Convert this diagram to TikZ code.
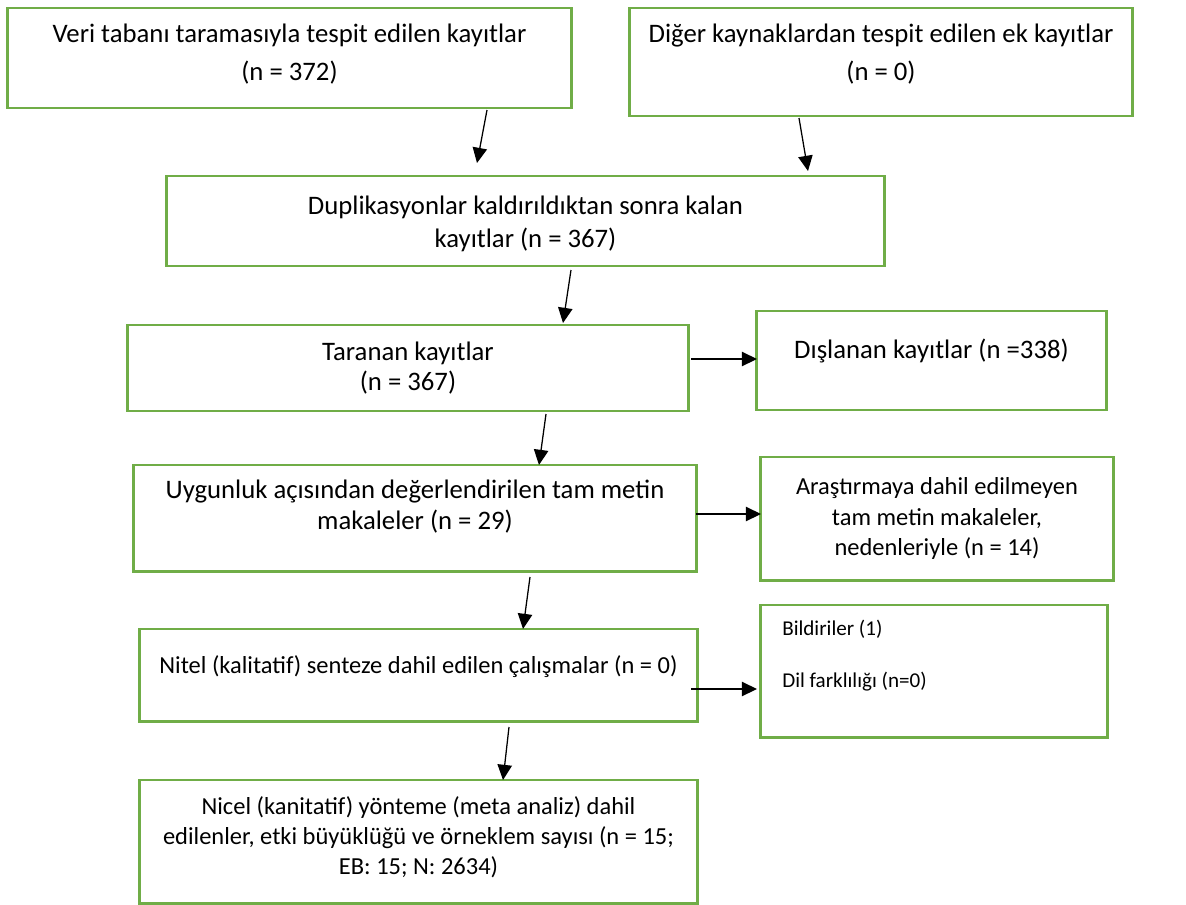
\documentclass[tikz,border=0pt]{standalone}
\usepackage{fontspec}
\setmainfont{Carlito}
\usepackage{tikz}
\usetikzlibrary{arrows.meta}
\definecolor{yesil}{RGB}{112,173,71}
% metni kutu icinde yukari (ya da asagi) kaydirir
\newcommand{\yukari}[2]{\raisebox{#1}[\height][\depth]{\begin{tabular}{@{}c@{}}#2\end{tabular}}}

\begin{document}
\begin{tikzpicture}[x=0.025cm,y=-0.025cm,
        kutu/.style={draw=yesil,line width=2.1pt,align=center,inner sep=0pt,
            font=\fontsize{19}{21.5}\selectfont},
        kucuk/.style={font=\fontsize{17.4}{21.6}\selectfont},
        madde/.style={anchor=west,inner sep=0pt,font=\fontsize{15}{18}\selectfont},
        >={Triangle[length=0.38cm,width=0.36cm]}]
        \useasboundingbox (0,0) rectangle (1186,904);
        \node[kutu,minimum width=14.075cm,minimum height=2.5cm] (k_1) at (289.5,58)
            {\yukari{0.06cm}{Veri tabanı taramasıyla tespit edilen kayıtlar\\[6pt](n = 372)}};
        \node[kutu,minimum width=12.55cm,minimum height=2.7cm] (k_2) at (881,62)
            {\yukari{0.16cm}{Diğer kaynaklardan tespit edilen ek kayıtlar\\[6pt](n = 0)}};
        \node[kutu,minimum width=17.925cm,minimum height=2.25cm] (k_3) at (525.5,221)
            {\yukari{-0.1cm}{Duplikasyonlar kaldırıldıktan sonra kalan\\[2pt]kayıtlar (n = 367)}};
        \node[kutu,minimum width=14cm,minimum height=2.15cm] (k_4) at (408,368)
            {Taranan kayıtlar\\(n = 367)};
        \node[kutu,minimum width=8.725cm,minimum height=2.475cm] (k_5) at (931.5,360.5)
            {\yukari{0.2cm}{Dışlanan kayıtlar (n =338)}};
        \node[kutu,minimum width=14.05cm,minimum height=2.65cm] (k_6) at (415,518)
            {\yukari{0.25cm}{Uygunluk açısından değerlendirilen tam metin\\makaleler (n = 29)}};
        \node[kutu,kucuk,minimum width=8.8cm,minimum height=3.075cm] (k_7) at (937,518.5)
            {Araştırmaya dahil edilmeyen\\tam metin makaleler,\\nedenleriyle (n = 14)};
        \node[kutu,kucuk,minimum width=13.925cm,minimum height=2.3cm] (k_8) at (418.5,675)
            {\yukari{0.2cm}{Nitel (kalitatif) senteze dahil edilen çalışmalar (n = 0)}};
        \node[kutu,minimum width=8.65cm,minimum height=3.3cm] (k_9) at (934,671) {};
        \node[madde] (k_9a) at (782,629) {Bildiriler (1)};
        \node[madde] (k_9b) at (782,682) {Dil farklılığı (n=0)};
        \node[kutu,kucuk,minimum width=13.925cm,minimum height=3.075cm] (k_10) at (418.5,841.5)
            {\yukari{0.08cm}{Nicel (kanitatif) yönteme (meta analiz) dahil\\edilenler, etki büyüklüğü ve örneklem sayısı (n = 15;\\EB: 15; N: 2634)}};
        % ok uclari
        \coordinate (o_1) at (487,110); \coordinate (u_1) at (477,163);
        \coordinate (o_2) at (799,118); \coordinate (u_2) at (808,171);
        \coordinate (o_3) at (571,270); \coordinate (u_3) at (563,323);
        \coordinate (o_4) at (691,359); \coordinate (u_4) at (757,359);
        \coordinate (o_5) at (546,414); \coordinate (u_5) at (539,465);
        \coordinate (o_6) at (696,514); \coordinate (u_6) at (761,514);
        \coordinate (o_7) at (530,577); \coordinate (u_7) at (523,629);
        \coordinate (o_8) at (691,689); \coordinate (u_8) at (757,689);
        \coordinate (o_9) at (509,727); \coordinate (u_9) at (503,780);
        \path[->,line width=0.9pt]
            (o_1) edge (u_1)
            (o_2) edge (u_2)
            (o_3) edge (u_3)
            (o_4) edge (u_4)
            (o_5) edge (u_5)
            (o_6) edge (u_6)
            (o_7) edge (u_7)
            (o_8) edge (u_8)
            (o_9) edge (u_9);
    \end{tikzpicture}
\end{document}
